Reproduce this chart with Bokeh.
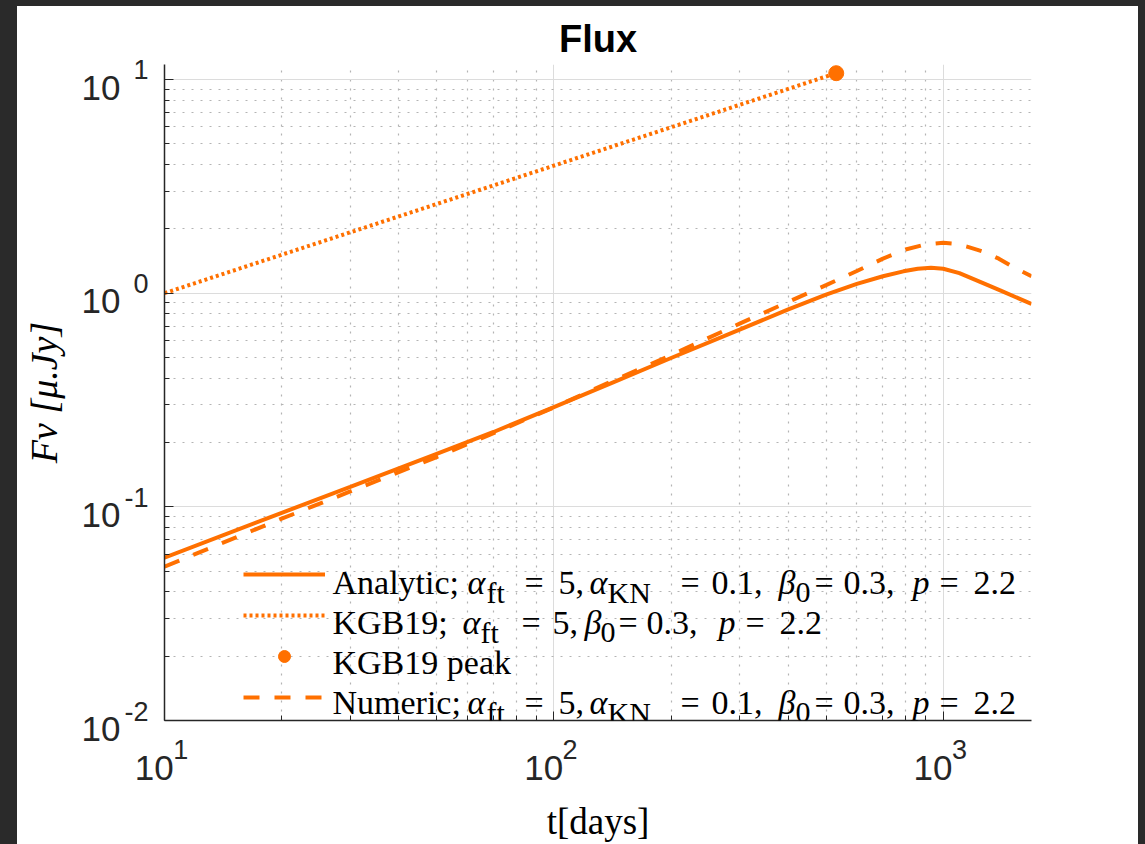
import numpy as np
from bokeh.plotting import figure
from bokeh.models import Label, Legend, LegendItem, FixedTicker, Spacer, LogAxis
from bokeh.layouts import row, column
from bokeh.embed import file_html
from bokeh.resources import INLINE

# ---------------- data ----------------
t_analytic = [10, 20, 30, 50, 70, 100, 140, 200, 300, 400, 500, 600, 700, 790, 860, 930, 1000, 1100, 1270, 1400, 1685]
F_analytic = [0.0578, 0.0937, 0.124, 0.177, 0.224, 0.293, 0.378, 0.497, 0.675, 0.84, 0.985, 1.105, 1.20, 1.265, 1.30, 1.315, 1.30, 1.24, 1.11, 1.03, 0.89]

t_numeric = [10, 20, 30, 50, 70, 100, 140, 200, 300, 400, 500, 600, 700, 800, 900, 1000, 1080, 1151, 1270, 1389, 1500, 1627, 1685]
F_numeric = [0.0525, 0.088, 0.118, 0.171, 0.221, 0.292, 0.385, 0.513, 0.72, 0.91, 1.09, 1.27, 1.45, 1.60, 1.69, 1.72, 1.70, 1.65, 1.56, 1.45, 1.335, 1.24, 1.20]

t_kgb19 = [10, 531]
F_kgb19 = [1.0, 10.7]

t_peak = [531]
F_peak = [10.7]

x_major = [10, 100, 1000]
x_minor = [20, 30, 40, 50, 60, 70, 80, 90, 200, 300, 400, 500, 600, 700, 800, 900]
y_major = [0.01, 0.1, 1, 10]
y_minor = [0.02, 0.03, 0.04, 0.05, 0.06, 0.07, 0.08, 0.09,
           0.2, 0.3, 0.4, 0.5, 0.6, 0.7, 0.8, 0.9,
           2, 3, 4, 5, 6, 7, 8, 9]
x_tick_exponents = ["1", "2", "3"]
y_tick_exponents = ["-2", "-1", "0", "1"]

# ---------------- styling ----------------
ORANGE = "#ff7000"
AX = "#262626"
DARK = "#2a2a2a"
SERIF = "Liberation Serif"
SANS = "Liberation Sans"

X_LO, X_HI = 10, 1685
Y_LO, Y_HI = 0.01, 11.75
PX0, PY0 = 17, 6                              # figure's top-left on the page
FL, FR, FT, FB = 164, 1031, 64, 721           # frame edges on the page (px)
W, H = 1121, 838
XPD = (FR - FL) / (np.log10(X_HI) - np.log10(X_LO))
YPD = (FB - FT) / (np.log10(Y_HI) - np.log10(Y_LO))

def sx(px):
    return 10 ** (np.log10(X_LO) + (px - FL) / XPD)

def sy(py):
    return 10 ** (np.log10(Y_LO) + (FB - py) / YPD)

p = figure(width=W, height=H, x_axis_type="log", y_axis_type="log",
           x_range=(X_LO, X_HI), y_range=(Y_LO, Y_HI),
           output_backend="svg", toolbar_location=None,
           min_border_left=FL - PX0, min_border_right=PX0 + W - FR,
           min_border_top=FT - PY0, min_border_bottom=PY0 + H - FB)
p.outline_line_color = None
p.background_fill_color = "white"
p.border_fill_color = "white"

p.title.text = "Flux"
p.title.align = "center"
p.title.text_font = SANS
p.title.text_font_style = "bold"
p.title.text_font_size = "38px"
p.title.text_color = "black"
p.title.standoff = 9

# main axes: line + inward ticks, no labels
p.xaxis.ticker = FixedTicker(ticks=x_major, minor_ticks=x_minor)
p.yaxis.ticker = FixedTicker(ticks=y_major, minor_ticks=y_minor)
p.xaxis.major_label_overrides = {v: "" for v in x_major}
p.yaxis.major_label_overrides = {v: "" for v in y_major}
for ax in (p.xaxis, p.yaxis):
    ax.axis_line_color = AX
    ax.axis_line_width = 1.5
    ax.major_tick_line_color = AX
    ax.minor_tick_line_color = AX
    ax.major_tick_in = 9
    ax.major_tick_out = 0
    ax.minor_tick_in = 5
    ax.minor_tick_out = 0
    ax.major_label_standoff = 0
    ax.major_label_text_font_size = "1px"

def label_axis(ticks, labels, size, standoff, line_height=1.2):
    return LogAxis(ticker=FixedTicker(ticks=ticks, minor_ticks=[]),
                   major_label_overrides=dict(zip(ticks, labels)),
                   axis_line_color=None, major_tick_line_color=None, minor_tick_line_color=None,
                   major_tick_in=0, major_tick_out=0, minor_tick_in=0, minor_tick_out=0,
                   major_label_standoff=standoff, major_label_text_font=SANS,
                   major_label_text_font_size=f"{size}px", major_label_text_color=AX,
                   major_label_text_line_height=line_height)

# x tick labels: exponent row (closest), then the "10" row pulled up next to it
x_exp_axis = label_axis(x_major, ["\u2003\u2009" + e for e in x_tick_exponents], 27, 14)
x_ten_axis = label_axis(x_major, ["10\u2002\u200a"] * len(x_major), 35, -20)
x_ten_axis.axis_label = "t[days]"
x_ten_axis.axis_label_text_font = SERIF
x_ten_axis.axis_label_text_font_style = "normal"
x_ten_axis.axis_label_text_font_size = "37px"
x_ten_axis.axis_label_text_color = "black"
x_ten_axis.axis_label_standoff = 11
p.add_layout(x_exp_axis, "below")
p.add_layout(x_ten_axis, "below")

# y tick labels: exponents right-aligned at the axis, "10" just left of them
y_exp_axis = label_axis(y_major, [e + "\n\u00a0" for e in y_tick_exponents], 27, 16, 0.6)
y_ten_axis = label_axis(y_major, ["\u00a0\n10"] * len(y_major), 35, 1, 0.4)
y_ten_axis.axis_label = "Fν [μ.Jy]"
y_ten_axis.axis_label_text_font = SERIF
y_ten_axis.axis_label_text_font_style = "italic"
y_ten_axis.axis_label_text_font_size = "38px"
y_ten_axis.axis_label_text_color = "black"
y_ten_axis.axis_label_standoff = 14
p.add_layout(y_exp_axis, "left")
p.add_layout(y_ten_axis, "left")

for g in (p.xgrid, p.ygrid):
    g.grid_line_color = "#dcdcdc"
    g.grid_line_width = 1
    g.minor_grid_line_color = "#b4b4b4"
    g.minor_grid_line_dash = "2 7"
    g.minor_grid_line_width = 1.2

r_a = p.line(t_analytic, F_analytic, line_color=ORANGE, line_width=4)
r_k = p.line(t_kgb19, F_kgb19, line_color=ORANGE, line_width=4, line_dash="3 3")
r_p = p.scatter(t_peak, F_peak, size=15, color=ORANGE)
r_n = p.line(t_numeric, F_numeric, line_color=ORANGE, line_width=4, line_dash="16 15")

legend = Legend(items=[LegendItem(label=" ", renderers=[r_a]),
                       LegendItem(label=" ", renderers=[r_k]),
                       LegendItem(label=" ", renderers=[r_p]),
                       LegendItem(label=" ", renderers=[r_n])],
                location=(79, 8), glyph_width=82, glyph_height=30, label_height=30,
                spacing=11, padding=0, margin=0, label_text_font_size="10px",
                border_line_color=None, background_fill_alpha=0)
p.add_layout(legend)

def put(text, x, y, size, style="normal", font=SERIF, color="black"):
    p.add_layout(Label(x=x, y=y, text=text, text_font=font, text_font_size=f"{size}px",
                       text_font_style=style, text_color=color, text_align="left",
                       text_baseline="alphabetic"))

# legend texts with sub-scripts
RM, SUB = 34, 30
row_main = [("α", 467, "it"), ("ft", 486, "sub"), ("=", 524, "rm"), ("5,", 558, "rm"),
            ("α", 589, "it"), ("KN", 607, "sub"), ("=", 680, "rm"), ("0.1,", 711, "rm"),
            ("β", 778, "it"), ("0", 795, "sub"), ("=", 814, "rm"), ("0.3,", 843, "rm"),
            ("p", 912, "it"), ("=", 939, "rm"), ("2.2", 973, "rm")]
legend_rows = [
    (583, [("Analytic;", 332, "rm")] + row_main),
    (623, [("KGB19;", 332, "rm"), ("α", 462, "it"), ("ft", 480, "sub"), ("=", 521, "rm"), ("5,", 552, "rm"),
           ("β", 584, "it"), ("0", 600, "sub"), ("=", 618, "rm"), ("0.3,", 646, "rm"),
           ("p", 718, "it"), ("=", 745, "rm"), ("2.2", 779, "rm")]),
    (663, [("KGB19 peak", 332, "rm")]),
    (703, [("Numeric;", 332, "rm")] + row_main),
]
for base, toks in legend_rows:
    for txt, px, kind in toks:
        if kind == "rm":
            put(txt, sx(px), sy(base), RM)
        elif kind == "it":
            put(txt, sx(px), sy(base), RM, "italic")
        else:
            put(txt, sx(px), sy(base + 10), SUB)

top_pad = Spacer(width=1145, height=PY0, styles={"background-color": DARK})
left_pad = Spacer(width=PX0, height=H, styles={"background-color": DARK})
right_pad = Spacer(width=1145 - PX0 - W, height=H, styles={"background-color": DARK})
layout = column(top_pad, row(left_pad, p, right_pad))

open("out.html", "w").write(file_html(layout, INLINE))
